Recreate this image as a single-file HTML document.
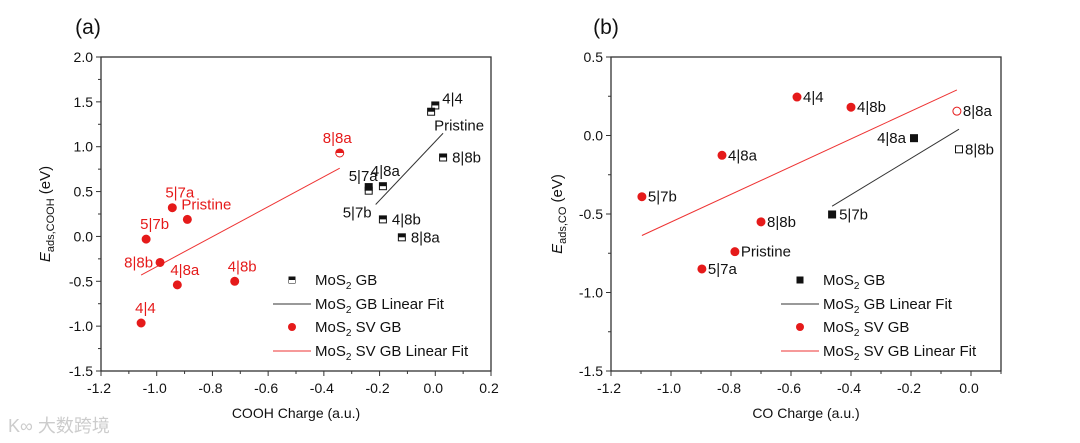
<!DOCTYPE html>
<html><head><meta charset="utf-8">
<style>
html,body{margin:0;padding:0;background:#fff;}
svg{display:block;font-family:"Liberation Sans",Arial,sans-serif;}
</style></head>
<body>
<svg id="fig" width="1080" height="443" viewBox="0 0 1080 443" xmlns="http://www.w3.org/2000/svg">
<text x="8" y="432" font-size="18" fill="#ccc" font-family="'Liberation Sans','Noto Sans CJK SC',sans-serif">K∞ 大数跨境</text>
</svg>
<script>
// Panel (a) data
const aBlackLabels = ["4|4","Pristine","8|8b","4|8a","5|7a","5|7b","4|8b","8|8a"];
const aBlackX = [0.00,-0.015,0.028,-0.188,-0.239,-0.239,-0.188,-0.12];
const aBlackY = [1.46,1.39,0.88,0.56,0.55,0.51,0.19,-0.01];
const aRedLabels = ["4|4","8|8b","5|7b","5|7a","Pristine","4|8a","4|8b","8|8a"];
const aRedX = [-1.056,-0.988,-1.038,-0.944,-0.89,-0.926,-0.72,-0.343];
const aRedY = [-0.965,-0.29,-0.03,0.32,0.19,-0.54,-0.50,0.93];
const aBlackFitX = [-0.214,0.028], aBlackFitY = [0.356,1.15];
const aRedFitX = [-1.056,-0.343], aRedFitY = [-0.43,0.76];
// Panel (b) data
const bRedLabels = ["4|4","4|8b","8|8a","4|8a","5|7b","8|8b","Pristine","5|7a"];
const bRedX = [-0.58,-0.40,-0.047,-0.83,-1.097,-0.70,-0.787,-0.897];
const bRedY = [0.245,0.18,0.155,-0.126,-0.39,-0.55,-0.74,-0.85];
const bBlackLabels = ["4|8a","8|8b","5|7b"];
const bBlackX = [-0.19,-0.04,-0.463];
const bBlackY = [-0.017,-0.088,-0.503];
const bBlackFitX = [-0.463,-0.04], bBlackFitY = [-0.45,0.04];
const bRedFitX = [-1.097,-0.047], bRedFitY = [-0.637,0.29];
// ticks
const aXTicks = ["-1.2","-1.0","-0.8","-0.6","-0.4","-0.2","0.0","0.2"];
const aYTicks = ["2.0","1.5","1.0","0.5","0.0","-0.5","-1.0","-1.5"];
const bXTicks = ["-1.2","-1.0","-0.8","-0.6","-0.4","-0.2","0.0"];
const bYTicks = ["0.5","0.0","-0.5","-1.0","-1.5"];

const svg=document.getElementById('fig');
const NS='http://www.w3.org/2000/svg';
function mk(tag,at,txt){const e=document.createElementNS(NS,tag);for(const k in at)e.setAttribute(k,at[k]);if(txt!==undefined)e.textContent=txt;svg.appendChild(e);return e;}

function panel(p){
  const sx=v=>p.x0+(v-p.xmin)*(p.x1-p.x0)/(p.xmax-p.xmin);
  const sy=v=>p.y1-(v-p.ymin)*(p.y1-p.y0)/(p.ymax-p.ymin);
  let e=mk('rect',{x:p.x0,y:p.y0,width:p.x1-p.x0,height:p.y1-p.y0,fill:'none',stroke:'#333','stroke-width':1.3});
  
  
  p.xt.forEach(t=>{const v=parseFloat(t),x=sx(v);
    e=mk('line',{x1:x,x2:x,y1:p.y1,y2:p.y1+5,stroke:'#333'});
    
    
    const mv=v+p.xstep/2; if(mv<p.xmax+1e-9){const mx=sx(mv);mk('line',{x1:mx,x2:mx,y1:p.y1,y2:p.y1+3,stroke:'#333'});}
    e=mk('text',{x:x-2,y:p.y1+22,'font-size':14,'text-anchor':'middle',fill:'#111'},t);
    
    
  });
  p.yt.forEach(t=>{const v=parseFloat(t),y=sy(v);
    e=mk('line',{x1:p.x0-5,x2:p.x0,y1:y,y2:y,stroke:'#333'});
    
    
    const mv=v-p.ystep/2; if(mv>p.ymin-1e-9){const my=sy(mv);mk('line',{x1:p.x0-3,x2:p.x0,y1:my,y2:my,stroke:'#333'});}
    e=mk('text',{x:p.x0-8,y:y+5,'font-size':14,'text-anchor':'end',fill:'#111'},t);
    
    
  });
  e=mk('text',{x:(p.x0+p.x1)/2,y:418,'font-size':14,'text-anchor':'middle',fill:'#111'},p.xtitle);
  
  
  const cy=(p.y0+p.y1)/2;
  e=mk('text',{x:p.ytx,y:cy,'font-size':15,'text-anchor':'middle',fill:'#111',transform:`rotate(-90 ${p.ytx} ${cy})`});
  
  
  e.innerHTML=`<tspan font-style="italic">E</tspan><tspan font-size="11" dy="4">ads,${p.ysub}</tspan><tspan dy="-4"> (eV)</tspan>`;
  e=mk('text',{x:p.lx,y:34,'font-size':21,'text-anchor':'middle',fill:'#111'},p.label);
  
  
  e=mk('line',{x1:sx(p.bfx[0]),y1:sy(p.bfy[0]),x2:sx(p.bfx[1]),y2:sy(p.bfy[1]),stroke:'#333','stroke-width':1});
  
  
  e=mk('line',{x1:sx(p.rfx[0]),y1:sy(p.rfy[0]),x2:sx(p.rfx[1]),y2:sy(p.rfy[1]),stroke:'#e33','stroke-width':1});
  
  
  p.bx.forEach((v,i)=>{const x=sx(v),y=sy(p.by[i]);
    const open=p.bopen(i);
    e=mk('rect',{x:x-3.5,y:y-3.5,width:7,height:7,fill:open?'#fff':'#111',stroke:'#111','stroke-width':1});
    
    
    if(!open&&p.half){mk('rect',{x:x-3,y:y,width:6,height:3,fill:'#fff'});}
    const o=p.blo[i];
    e=mk('text',{x:x+o[0],y:y+o[1],'font-size':15,'text-anchor':o[2]||'start',fill:'#111'},p.bl[i]);
    
    
  });
  p.rx.forEach((v,i)=>{const x=sx(v),y=sy(p.ry[i]);
    const open=p.ropen(i);
    e=mk('circle',{cx:x,cy:y,r:4,fill:open?'#fff':'#e51a1a',stroke:'#e51a1a','stroke-width':1});
    
    
    if(open&&p.half){mk('path',{d:`M${x-4} ${y} A4 4 0 0 1 ${x+4} ${y} Z`,fill:'#e51a1a'});}
    const o=p.rlo[i];
    e=mk('text',{x:x+o[0],y:y+o[1],'font-size':15,'text-anchor':o[2]||'start',fill:p.rcol},p.rl[i]);
    
    
  });
  const L=p.leg, ys=[280,304,327,351];
  e=mk('rect',{x:L-3.5,y:ys[0]-3.5,width:7,height:7,fill:'#111'});
  
  
  if(p.half)mk('rect',{x:L-3,y:ys[0],width:6,height:3,fill:'#fff'});
  e=mk('line',{x1:L-19,x2:L+19,y1:ys[1],y2:ys[1],stroke:'#333'});
  
  
  e=mk('circle',{cx:L,cy:ys[2],r:4,fill:'#e51a1a'});
  
  
  e=mk('line',{x1:L-19,x2:L+19,y1:ys[3],y2:ys[3],stroke:'#e33'});
  
  
  const lt=[' GB',' GB Linear Fit',' SV GB',' SV GB Linear Fit'];
  lt.forEach((t,i)=>{e=mk('text',{x:L+23,y:ys[i]+5,'font-size':15,fill:'#111'});
    
    
    e.innerHTML=`MoS<tspan font-size="10" dy="4">2</tspan><tspan dy="-4">${t}</tspan>`;});
}

panel({id:'a',label:'(a)',lx:88,x0:101,x1:491,y0:57,y1:371,xmin:-1.2,xmax:0.2,ymin:-1.5,ymax:2.0,xstep:0.2,ystep:0.5,
  xt:aXTicks,yt:aYTicks,xtitle:'COOH Charge (a.u.)',ysub:'COOH',ytx:50,half:true,
  bx:aBlackX,by:aBlackY,bl:aBlackLabels,bopen:i=>false,
  blo:[[7,-2],[3,19],[9,5],[-12,-10],[-20,-6],[-26,27],[9,5],[9,5]],
  rx:aRedX,ry:aRedY,rl:aRedLabels,ropen:i=>i===7,rcol:'#e51a1a',
  rlo:[[-6,-10],[-7,5,'end'],[-6,-10],[-7,-10],[-6,-10],[-7,-10],[-7,-10],[-17,-10]],
  bfx:aBlackFitX,bfy:aBlackFitY,rfx:aRedFitX,rfy:aRedFitY,leg:292});
panel({id:'b',label:'(b)',lx:606,x0:611,x1:1001,y0:57,y1:371,xmin:-1.2,xmax:0.1,ymin:-1.5,ymax:0.5,xstep:0.2,ystep:0.5,
  xt:bXTicks,yt:bYTicks,xtitle:'CO Charge (a.u.)',ysub:'CO',ytx:562,half:false,
  bx:bBlackX,by:bBlackY,bl:bBlackLabels,bopen:i=>i===1,
  blo:[[-8,5,'end'],[6,5],[7,5]],
  rx:bRedX,ry:bRedY,rl:bRedLabels,ropen:i=>i===2,rcol:'#111',
  rlo:[[6,5],[6,5],[6,5],[6,5],[6,5],[6,5],[6,5],[6,5]],
  bfx:bBlackFitX,bfy:bBlackFitY,rfx:bRedFitX,rfy:bRedFitY,leg:800});
</script>
</body></html>
